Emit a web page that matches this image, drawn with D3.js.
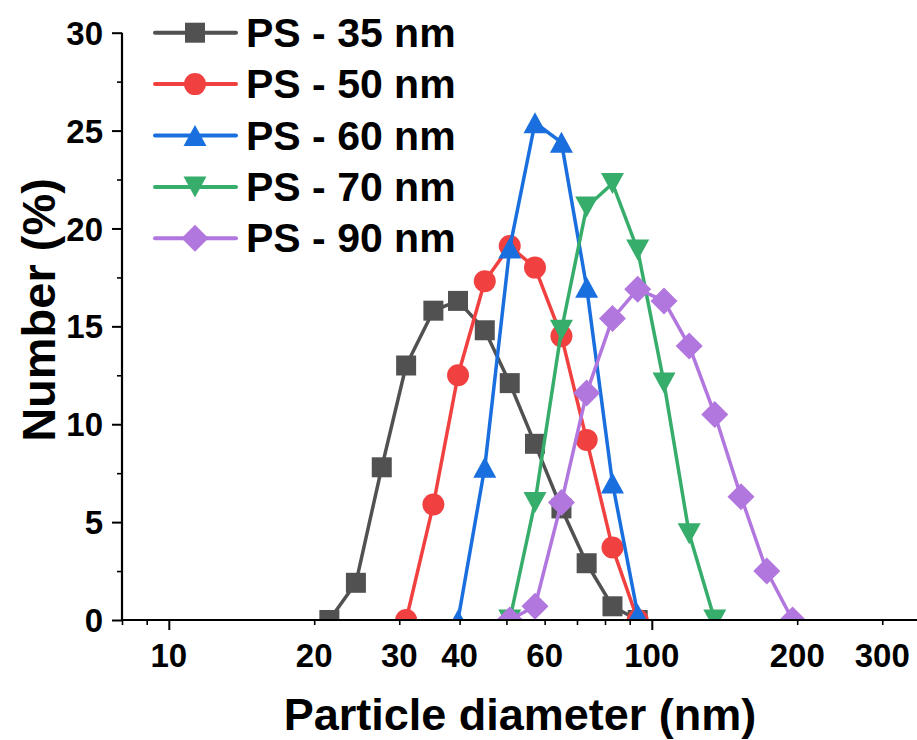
<!DOCTYPE html>
<html>
<head>
<meta charset="utf-8">
<script src="https://cdn.jsdelivr.net/npm/d3@7"></script>
<style>
  body { margin: 0; background: #fff; }
  svg { display: block; font-family: "Liberation Sans", Arial, sans-serif; font-weight: bold; }
</style>
</head>
<body>
<div id="chart"></div>
<script>
// Data (size in nm, number %)
const sizes35 = [21.5, 24.4, 27.6, 31.0, 35.3, 39.7, 45.1, 50.8, 57.3, 65.0, 73.3, 82.9, 93.5];
const num35   = [0, 1.9, 7.8, 13.0, 15.8, 16.3, 14.8, 12.1, 9.0, 5.7, 2.9, 0.7, 0];

const sizes50 = [31.0, 35.3, 39.7, 45.1, 50.8, 57.3, 65.0, 73.3, 82.9, 93.5];
const num50   = [0, 5.9, 12.5, 17.3, 19.1, 18.0, 14.5, 9.2, 3.7, 0];

const sizes60 = [39.7, 45.1, 50.8, 57.3, 65.0, 73.3, 82.9, 93.5];
const num60   = [0, 7.8, 19.0, 25.4, 24.4, 17.0, 7.0, 0.3];

const sizes70 = [50.8, 57.3, 65.0, 73.3, 82.9, 93.5, 106, 119.5, 135];
const num70   = [0, 6.0, 14.8, 21.1, 22.3, 18.9, 12.1, 4.4, 0];

const sizes90 = [50.8, 57.3, 65.0, 73.3, 82.9, 93.5, 106, 119.5, 135, 153, 173, 195.6];
const num90   = [0, 0.7, 6.0, 11.6, 15.4, 16.9, 16.3, 14.0, 10.5, 6.3, 2.5, 0];

const seriesNames = ["PS - 35 nm", "PS - 50 nm", "PS - 60 nm", "PS - 70 nm", "PS - 90 nm"];
const colors = ["#515151", "#F14040", "#1A6FDF", "#37AD6B", "#B177DE"];
const shapes = ["square", "circle", "triangle", "triangleDown", "diamond"];

const xTickLabels = [10, 20, 30, 40, 60, 100, 200, 300];
const xMinorTicks = [8, 9, 20, 30, 40, 50, 60, 70, 80, 90, 200, 300];
const xMajorTicks = [10, 100];
const yTicks = [0, 5, 10, 15, 20, 25, 30];

const W = 917, H = 740;
const plotLeft = 122, plotBottom = 620, plotTop = 32.7;

const svg = d3.select("#chart").append("svg")
  .attr("width", W)
  .attr("height", H);

// scales
const x = d3.scaleLog()
  .domain([8, 400])
  .range([plotLeft, plotLeft + 483 * Math.log10(400 / 8)]);

const y = d3.scaleLinear()
  .domain([0, 30])
  .range([plotBottom, plotTop]);

// marker paths, centred on their bounding box
function marker(shape) {
  if (shape === "square") return "M-10,-10H10V10H-10Z";
  if (shape === "circle") return d3.symbol(d3.symbolCircle, 380)();
  if (shape === "triangle") return "M0,-10.5L11.5,10.5L-11.5,10.5Z";
  if (shape === "triangleDown") return "M0,10.5L11.5,-10.5L-11.5,-10.5Z";
  return "M0,-13.5L13.5,0L0,13.5L-13.5,0Z";
}

const series = [
  sizes35.map((d, i) => ({ size: d, num: num35[i] })),
  sizes50.map((d, i) => ({ size: d, num: num50[i] })),
  sizes60.map((d, i) => ({ size: d, num: num60[i] })),
  sizes70.map((d, i) => ({ size: d, num: num70[i] })),
  sizes90.map((d, i) => ({ size: d, num: num90[i] }))
];

// clip to the plot area so markers at zero are cut at the axis
svg.append("clipPath").attr("id", "plot-clip")
  .append("rect")
  .attr("x", plotLeft)
  .attr("y", 0)
  .attr("width", W - plotLeft)
  .attr("height", plotBottom);

const plot = svg.append("g").attr("clip-path", "url(#plot-clip)");

const line = d3.line()
  .x(d => x(d.size))
  .y(d => y(d.num));

series.forEach((data, k) => {
  const g = plot.append("g");
  g.append("path")
    .datum(data)
    .attr("fill", "none")
    .attr("stroke", colors[k])
    .attr("stroke-width", 3.5)
    .attr("stroke-linejoin", "round")
    .attr("d", line);
  g.selectAll("path.pt")
    .data(data)
    .enter().append("path")
    .attr("class", "pt")
    .attr("transform", d => `translate(${x(d.size)},${y(d.num)})`)
    .attr("d", marker(shapes[k]))
    .attr("fill", colors[k]);
});

// y axis
const yAxis = svg.append("g")
  .attr("transform", `translate(${plotLeft},0)`)
  .call(d3.axisLeft(y).tickValues(yTicks).tickSize(10).tickPadding(9));

svg.append("g")
  .attr("transform", `translate(${plotLeft},0)`)
  .call(d3.axisLeft(y).tickValues(d3.range(2.5, 30, 5)).tickSize(5).tickFormat(""))
  .call(g => g.select(".domain").remove())
  .selectAll(".tick line").attr("stroke-width", 1.6);

yAxis.select(".domain").attr("stroke-width", 2.2).attr("d", `M0,${plotBottom + 1}V${plotTop}`);
yAxis.selectAll(".tick line").attr("stroke-width", 2);
yAxis.selectAll("text")
  .style("font-size", "33px")
  .style("font-weight", "bold")
  .style("font-family", "Liberation Sans, Arial, sans-serif")
  .attr("dy", "0.35em");

// x axis
const xAxis = svg.append("g")
  .attr("transform", `translate(0,${plotBottom})`)
  .call(d3.axisBottom(x).tickValues(xMajorTicks).tickSize(10).tickFormat(""));

xAxis.select(".domain").attr("stroke-width", 2.2).attr("d", `M${plotLeft - 1},0H${W}`);
xAxis.selectAll(".tick line").attr("stroke-width", 2);

svg.append("g")
  .attr("transform", `translate(0,${plotBottom})`)
  .call(d3.axisBottom(x).tickValues(xMinorTicks).tickSize(5).tickFormat(""))
  .call(g => g.select(".domain").remove())
  .selectAll(".tick line").attr("stroke-width", 1.6);

svg.append("g")
  .selectAll("text")
  .data(xTickLabels)
  .enter().append("text")
  .attr("x", d => x(d))
  .attr("y", 667)
  .attr("text-anchor", "middle")
  .style("font-size", "33px")
  .text(d => d);

// axis titles
svg.append("text")
  .attr("x", 520)
  .attr("y", 730)
  .attr("text-anchor", "middle")
  .style("font-size", "45px")
  .text("Particle diameter (nm)");

svg.append("text")
  .attr("transform", "translate(55,310) rotate(-90)")
  .attr("text-anchor", "middle")
  .style("font-size", "47px")
  .text("Number (%)");

// legend
const legend = svg.append("g");
seriesNames.forEach((name, k) => {
  const ly = 32.7 + k * 51.4;
  legend.append("line")
    .attr("x1", 155).attr("x2", 236)
    .attr("y1", ly).attr("y2", ly)
    .attr("stroke", colors[k])
    .attr("stroke-width", 4)
    .attr("stroke-linecap", "round");
  legend.append("path")
    .attr("transform", `translate(195,${ly})`)
    .attr("d", marker(shapes[k]))
    .attr("fill", colors[k]);
  legend.append("text")
    .attr("x", 246)
    .attr("y", ly + 14)
    .style("font-size", "41px")
    .text(name);
});
</script>
</body>
</html>
